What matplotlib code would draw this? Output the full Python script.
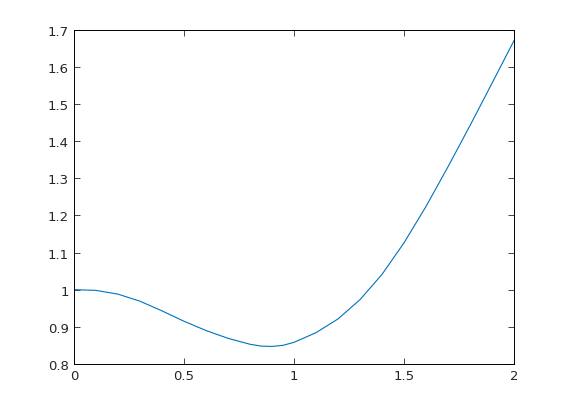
import matplotlib

matplotlib.use("Agg")
import matplotlib.pyplot as plt  # noqa: E402
from matplotlib.ticker import FormatStrFormatter  # noqa: E402

# values
x_vals = [0.0, 0.1, 0.2, 0.3, 0.4, 0.5, 0.6, 0.7, 0.8, 0.85, 0.9, 0.95, 1.0,
          1.1, 1.2, 1.3, 1.4, 1.5, 1.6, 1.7, 1.8, 1.9, 2.0]
y_vals = [1.000, 0.998, 0.988, 0.969, 0.943, 0.915, 0.890, 0.869, 0.853, 0.848,
          0.847, 0.850, 0.858, 0.884, 0.921, 0.973, 1.041, 1.126, 1.224, 1.331,
          1.442, 1.556, 1.671]
x_ticks = [0, 0.5, 1, 1.5, 2]
y_ticks = [0.8, 0.9, 1.0, 1.1, 1.2, 1.3, 1.4, 1.5, 1.6, 1.7]

fig = plt.figure(figsize=(5.68, 4.10), dpi=100)
ax = fig.add_axes([0.13, 0.11, 0.775, 0.815])
ax.plot(x_vals, y_vals, color="#0072bd", lw=0.8)
ax.set_xlim(0, 2); ax.set_ylim(0.8, 1.7)
ax.set_xticks(x_ticks); ax.set_yticks(y_ticks)
ax.xaxis.set_major_formatter(FormatStrFormatter("%g"))
ax.yaxis.set_major_formatter(FormatStrFormatter("%g"))
ax.tick_params(direction="in", top=True, right=True, length=4, width=0.6,
               labelsize=9.5, colors="#262626")
for s in ax.spines.values():
    s.set_linewidth(0.7)
fig.savefig("out.png", dpi=100)
plt.close(fig)
